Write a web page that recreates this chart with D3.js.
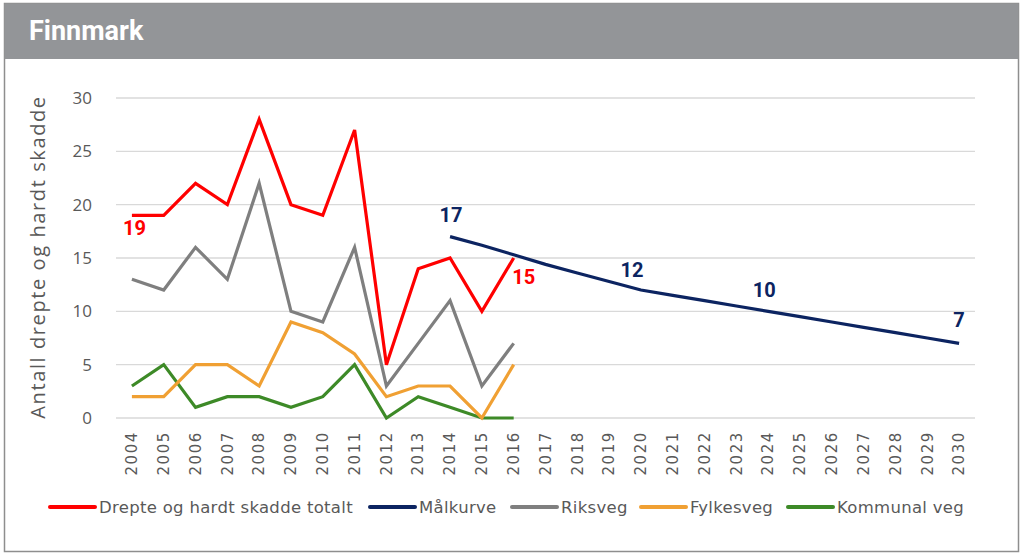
<!DOCTYPE html>
<html><head><meta charset="utf-8">
<script src="https://cdn.jsdelivr.net/npm/d3@7"></script>
<style>
html,body{margin:0;padding:0;background:#fff;}
svg{display:block;}
</style></head>
<body>
<svg id="c" width="1024" height="557"></svg>
<script>
const years = d3.range(2004, 2031).map(String);
const totalYears = ["2004","2005","2006","2007","2008","2009","2010","2011","2012","2013","2014","2015","2016"];
const totalValues = [19,19,22,20,28,20,19,27,5,14,15,10,15];
const riksvegValues = [13,12,16,13,22,10,9,16,3,7,11,3,7];
const fylkesvegValues = [2,2,5,5,3,9,8,6,2,3,3,0,5];
const kommunalValues = [3,5,1,2,2,1,2,5,0,2,1,0,0];
const malYears = ["2014","2015","2016","2017","2018","2019","2020","2021","2022","2023","2024","2025","2026","2027","2028","2029","2030"];
const malValues = [17,16.2,15.3,14.4,13.6,12.8,12,11.5,11,10.5,10,9.5,9,8.5,8,7.5,7];
const yTicks = [0,5,10,15,20,25,30];
const seriesNames = ["Drepte og hardt skadde totalt","Målkurve","Riksveg","Fylkesveg","Kommunal veg"];
const seriesColors = ["#ff0000","#0c2461","#7f7f7f","#f0a033","#3d8a27"];
const labelsTotal = [{year:"2004", value:19}, {year:"2016", value:15}];
const labelsMal = [{year:"2014", value:17}, {year:"2020", value:12}, {year:"2024", value:10}, {year:"2030", value:7}];

const svg = d3.select("#c");
const FONT = "'Open Sans', 'DejaVu Sans', sans-serif";
const LFONT = "'DejaVu Sans', sans-serif";

// frame
svg.append("rect").attr("x",4.5).attr("y",3.5).attr("width",1014).attr("height",548)
  .attr("fill","#fff").attr("stroke","#8e8e8e").attr("stroke-width",1.5);
svg.append("rect").attr("x",4.5).attr("y",3.5).attr("width",1014).attr("height",55.5)
  .attr("fill","#939598");
svg.append("text").attr("x",29).attr("y",39.5).attr("fill","#fff")
  .attr("font-family","Roboto, 'Open Sans', sans-serif").attr("font-weight","bold").attr("font-size",27)
  .text("Finnmark");

const x = d3.scaleBand().domain(years).range([116,975]);
const y = d3.scaleLinear().domain([0,30]).range([418,98]);
const cx = d => x(d) + x.bandwidth()/2;

const g = svg.append("g");
// grid
g.selectAll("line.grid").data(yTicks).join("line")
  .attr("x1",116).attr("x2",975)
  .attr("y1",d=>y(d)).attr("y2",d=>y(d))
  .attr("stroke","#d9d9d9").attr("stroke-width",1.4);

// y axis labels
const yAxis = svg.append("g").attr("transform","translate(100,0)")
  .call(d3.axisLeft(y).tickValues(yTicks).tickSize(0).tickPadding(8));
yAxis.select(".domain").remove();
yAxis.selectAll("text").attr("font-family",FONT).attr("font-size",17).attr("fill","#595959");

// x axis labels
const xAxis = svg.append("g").attr("transform","translate(0,425)")
  .call(d3.axisBottom(x).tickSize(0).tickPadding(0));
xAxis.select(".domain").remove();
xAxis.selectAll("text")
  .attr("font-family",LFONT).attr("font-size",15).attr("fill","#595959")
  .attr("letter-spacing","1.6px")
  .attr("transform","rotate(-90)")
  .attr("text-anchor","end").attr("x",-6).attr("y",0).attr("dy","0.35em");

// y title
svg.append("text").attr("transform","translate(45,257) rotate(-90)")
  .attr("text-anchor","middle").attr("font-family",FONT).attr("font-size",20)
  .attr("letter-spacing","1.6px")
  .attr("fill","#595959").text("Antall drepte og hardt skadde");

const line = d3.line().x(d=>cx(d[0])).y(d=>y(d[1]));
function draw(ys, vs, color){
  g.append("path").datum(ys.map((k,i)=>[k,vs[i]]))
    .attr("d",line).attr("fill","none").attr("stroke",color)
    .attr("stroke-width",3.2).attr("stroke-linejoin","miter").attr("stroke-linecap","butt");
}
draw(totalYears, kommunalValues, seriesColors[4]);
draw(totalYears, fylkesvegValues, seriesColors[3]);
draw(totalYears, riksvegValues, seriesColors[2]);
draw(malYears, malValues, seriesColors[1]);
draw(totalYears, totalValues, seriesColors[0]);

// data labels (placement offsets relative to their points)
const totOff = [[2.5,20],[10,26]];
const malOff = [[1,-15],[-9,-13],[-4,-14],[0,-16]];
const LBL = "Roboto, 'Open Sans', sans-serif";
g.selectAll("text.lt").data(labelsTotal).join("text")
  .attr("x",(d,i)=> cx(d.year)+totOff[i][0])
  .attr("y",(d,i)=> y(d.value)+totOff[i][1])
  .attr("text-anchor","middle").attr("font-family",LBL).attr("font-weight","bold")
  .attr("font-size",20).attr("fill",seriesColors[0]).text(d=>d.value);
g.selectAll("text.lm").data(labelsMal).join("text")
  .attr("x",(d,i)=>cx(d.year)+malOff[i][0]).attr("y",(d,i)=>y(d.value)+malOff[i][1])
  .attr("text-anchor","middle").attr("font-family",LBL).attr("font-weight","bold")
  .attr("font-size",20).attr("fill",seriesColors[1]).text(d=>d.value);

// legend
const legX = [50,370,512,641,788];
const leg = svg.append("g");
seriesNames.forEach((n,i)=>{
  leg.append("line").attr("x1",legX[i]).attr("x2",legX[i]+45).attr("y1",507).attr("y2",507)
    .attr("stroke",seriesColors[i]).attr("stroke-width",4).attr("stroke-linecap","round");
  leg.append("text").attr("x",legX[i]+49).attr("y",512.5)
    .attr("font-family",LFONT).attr("font-size",16.5).attr("fill","#595959")
    .attr("letter-spacing","0.3px").text(n);
});
</script>
</body></html>
